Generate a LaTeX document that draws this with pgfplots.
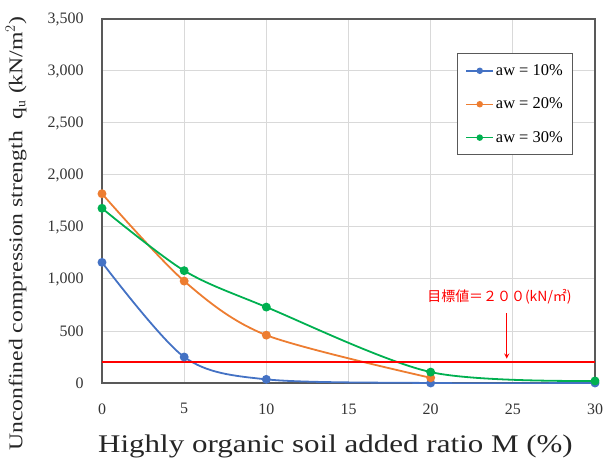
\documentclass[border=0pt]{standalone}
\usepackage{pgfplots}
\pgfplotsset{compat=1.18}
\usepackage{fontspec}
\setmainfont{Liberation Serif}
\newfontfamily\widefont[FakeStretch=1.22]{Liberation Serif}
\newfontfamily\cjk{Noto Sans CJK JP}
\definecolor{cblue}{HTML}{4472C4}
\definecolor{corange}{HTML}{ED7D31}
\definecolor{cgreen}{HTML}{00B050}
\definecolor{axgray}{HTML}{595959}
\definecolor{gridgray}{HTML}{D9D9D9}
\begin{document}
\begin{tikzpicture}[x=1bp,y=1bp]
\begin{axis}[
  scale only axis,
  width=493bp, height=364bp,
  xmin=0, xmax=30, ymin=0, ymax=3500,
  xtick={0,5,...,30}, ytick={0,500,...,3500},
  major tick length=0pt,
  xticklabel shift=17bp, yticklabel shift=15bp,
  /pgf/number format/assume math mode=true,
  /pgf/number format/1000 sep={,},
  scaled y ticks=false,
  tick label style={font=\fontsize{16}{18}\selectfont, text=black!80},
  grid=major,
  major grid style={gridgray, line width=1bp},
  axis line style={axgray, line width=1.5bp},
  xlabel={Highly organic soil added ratio M (\%)},
  ylabel={Unconfined compression strength\ \ q$_\mathrm{u}$ (kN/m$^2$)},
  xlabel style={font=\widefont\fontsize{25.5}{28}\selectfont, text=black!85,
    at={(axis description cs:0.4736,-0.19)}, anchor=base},
  ylabel style={font=\widefont\fontsize{19.5}{22}\selectfont, text=black!85,
    at={(axis description cs:-0.1744,0.41)}, anchor=center},
  every axis plot/.append style={line width=1.8bp, mark=*, mark size=3.5bp, smooth, tension=0.5},
  legend style={at={(0.72,0.9066)}, anchor=north west, draw=axgray, line width=1.2bp,
    font=\fontsize{16.5}{18}\selectfont, row sep=17bp, inner xsep=8bp, inner ysep=9bp,
    legend cell align=left},
  legend image code/.code={\draw[#1, line width=1.4bp, mark size=2.5bp, mark repeat=2, mark phase=2]
    plot coordinates {(0bp,0bp) (13.5bp,0bp) (27bp,0bp)};},
]
\addplot[cblue, mark options={fill=cblue}] coordinates {(0,1160) (5,250) (10,35) (20,0) (30,0)};
\addlegendentry{aw = 10\%}
\addplot[corange, mark options={fill=corange}] coordinates {(0,1820) (5,980) (10,460) (20,50)};
\addlegendentry{aw = 20\%}
\addplot[cgreen, mark options={fill=cgreen}] coordinates {(0,1680) (5,1080) (10,730) (20,105) (30,20)};
\addlegendentry{aw = 30\%}
\addplot[red, line width=2bp, mark=none, sharp plot, forget plot] coordinates {(0,200) (30,200)};
\draw[red, line width=1.2bp, -stealth] (axis cs:24.63,673) -- (axis cs:24.63,235);
\node[red, font=\cjk\fontsize{14}{16}\selectfont] at (axis cs:24.19,832) {目標値＝２００(kN/㎡)};
\end{axis}
\pgfresetboundingbox
\path ([shift={(-102bp,-76bp)}]current axis.south west) rectangle ([shift={(9bp,19bp)}]current axis.north east);
\end{tikzpicture}
\end{document}
